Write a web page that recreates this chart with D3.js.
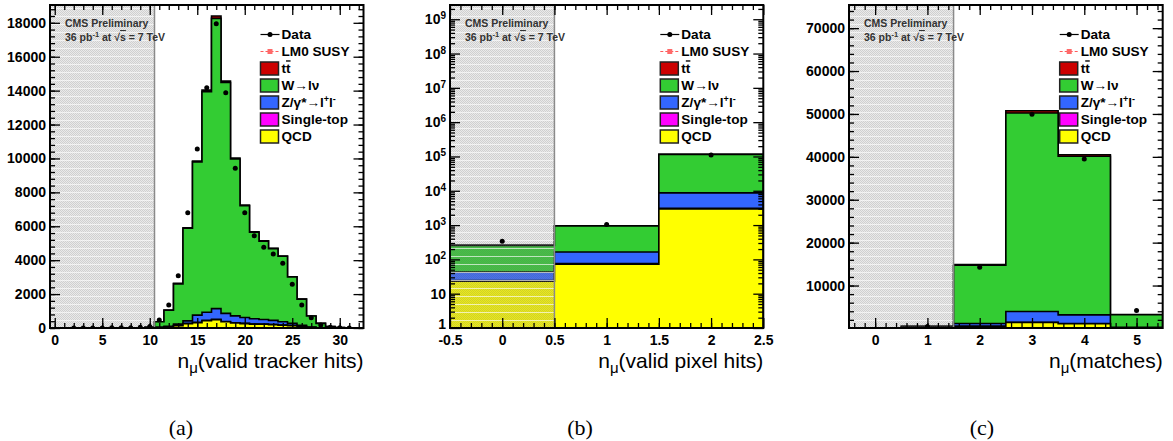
<!DOCTYPE html>
<html>
<head>
<meta charset="utf-8">
<script src="https://cdn.jsdelivr.net/npm/d3@7"></script>
<style>
  body { margin: 0; background: #fff; }
  svg { display: block; }
</style>
</head>
<body>
<svg id="chart" width="1173" height="441"></svg>
<script>
// ---- (a) valid tracker hits, bins 0..32
const trkBins = d3.range(0, 33);
const trkQcd = [0,0,0,0,0,0,0,0,0,0,5,15,45,140,255,310,425,490,365,295,258,228,218,200,162,143,95,28,8,2,0,0,0];
const trkTop = [0,0,0,0,0,0,0,0,0,0,0,2,5,10,15,20,25,20,15,15,12,12,12,10,8,7,5,2,1,0,0,0,0];
const trkZ   = [0,0,0,0,0,0,0,0,0,2,10,40,50,80,150,430,480,630,485,405,350,310,270,240,200,125,60,30,10,3,1,0,0];
const trkW   = [0,0,0,0,0,0,1,2,5,12,40,308,945,2375,5460,9040,13010,17120,13610,9255,6590,5100,4625,4230,3860,2740,1545,644,255,85,19,5,0];
const trkTT  = [0,0,0,0,0,0,0,0,0,0,2,5,15,25,35,50,90,140,85,50,40,30,25,20,15,10,5,3,1,0,0,0,0];
const trkData = [0,0,3,2,5,6,10,15,20,40,90,470,1360,3085,6800,10550,14170,17940,13870,9415,6800,5440,4760,4360,3815,2575,1355,610,180,50,10,3,0];
const trkXTicks = [0, 5, 10, 15, 20, 25, 30];
const trkYTicks = [0, 2000, 4000, 6000, 8000, 10000, 12000, 14000, 16000, 18000];

// ---- (b) valid pixel hits, bins 0..2
const pixBins = [0, 1, 2];
const pixQcd = [23, 72, 2950];
const pixTop = [1, 3, 130];
const pixZ   = [19, 90, 5620];
const pixW   = [213, 775, 106400];
const pixTT  = [2, 10, 900];
const pixData = [337, 1040, 110000];
const pixXTicks = [-0.5, 0, 0.5, 1, 1.5, 2, 2.5];
const pixYTicks = [1, 10, 1e2, 1e3, 1e4, 1e5, 1e6, 1e7, 1e8, 1e9];

// ---- (c) matches, bins 0..5
const matBins = [0, 1, 2, 3, 4, 5];
const matQcd = [0, 60, 480, 1380, 1090, 80];
const matTop = [0, 5, 30, 70, 50, 10];
const matZ   = [0, 120, 630, 2480, 2020, 150];
const matW   = [0, 305, 13620, 46300, 36980, 2960];
const matTT  = [0, 10, 120, 500, 350, 40];
const matData = [0, 450, 14250, 49960, 39490, 4170];
const matXTicks = [0, 1, 2, 3, 4, 5];
const matYTicks = [10000, 20000, 30000, 40000, 50000, 60000, 70000];

// stack order bottom -> top
const colors = ["#ffff00", "#ff00ff", "#3366ff", "#33cc33", "#cc0000"];
const legendItems = [
  { color: "#cc0000", label: "tt" },
  { color: "#33cc33", label: "W→lν" },
  { color: "#3366ff", label: "Z" },
  { color: "#ff00ff", label: "Single-top" },
  { color: "#ffff00", label: "QCD" },
];

const SANS = '"Liberation Sans", Arial, Helvetica, sans-serif';
const svg = d3.select("#chart").style("font-family", SANS);
const T = 5, B = 328;
const defs = svg.append("defs");

// grey dotted "excluded" region
const pat = defs.append("pattern")
  .attr("id", "excl")
  .attr("patternUnits", "userSpaceOnUse")
  .attr("width", 2).attr("height", 8);
pat.append("rect").attr("width", 2).attr("height", 8).attr("fill", "rgba(150,150,150,0.2)");
d3.range(0, 8, 2).forEach((py) => {
  pat.append("rect").attr("x", 0).attr("y", py).attr("width", 1).attr("height", 1).attr("fill", "rgba(90,90,90,0.18)");
  pat.append("rect").attr("x", 1).attr("y", py + 1).attr("width", 1).attr("height", 1).attr("fill", "rgba(90,90,90,0.18)");
});
pat.append("rect").attr("y", 0).attr("width", 2).attr("height", 1).attr("fill", "rgba(255,255,255,0.65)");

const panels = [
  {
    id: "a", L: 50, R: 363.5, xDomain: [-0.5, 32.5], cut: 10.5,
    bins: trkBins, layers: [trkQcd, trkTop, trkZ, trkW, trkTT], data: trkData,
    log: false, yDomain: [0, 19050],
    xTicks: trkXTicks, xMinor: d3.range(0, 33),
    yTicks: trkYTicks, yMinor: d3.range(0, 19001, 400),
    title: "(valid tracker hits)", caption: "(a)", capX: 181,
  },
  {
    id: "b", L: 450, R: 763.3, xDomain: [-0.5, 2.5], cut: 0.5,
    bins: pixBins, layers: [pixQcd, pixTop, pixZ, pixW, pixTT], data: pixData,
    log: true, yDomain: [1, 2.6e9],
    xTicks: pixXTicks, xMinor: d3.range(-0.4, 2.45, 0.1),
    yTicks: pixYTicks,
    yMinor: d3.range(0, 10).flatMap((k) => d3.range(2, 10).map((m) => m * Math.pow(10, k))).filter((v) => v < 2.6e9),
    title: "(valid pixel hits)", caption: "(b)", capX: 580,
  },
  {
    id: "c", L: 849, R: 1162.7, xDomain: [-0.5, 5.5], cut: 1.5,
    bins: matBins, layers: [matQcd, matTop, matZ, matW, matTT], data: matData,
    log: false, yDomain: [100, 75400],
    xTicks: matXTicks, xMinor: d3.range(-0.4, 5.45, 0.2),
    yTicks: matYTicks, yMinor: d3.range(2000, 75001, 2000),
    title: "(matches)", caption: "(c)", capX: 982,
  },
];

panels.forEach(drawPanel);

function drawPanel(p) {
  const x = d3.scaleLinear().domain(p.xDomain).range([p.L, p.R]);
  const y = (p.log ? d3.scaleLog() : d3.scaleLinear()).domain(p.yDomain).range([B, T]);
  const base = p.log ? p.yDomain[0] : 0;
  const yv = (v) => y(p.log ? Math.max(v, base) : v);

  defs.append("clipPath").attr("id", "clip-" + p.id)
    .append("rect").attr("x", p.L).attr("y", T).attr("width", p.R - p.L).attr("height", B - T);

  const g = svg.append("g");
  const plot = g.append("g").attr("clip-path", `url(#clip-${p.id})`);

  // cumulative stack
  const cum = [];
  p.layers.forEach((arr, i) => {
    cum.push(arr.map((v, b) => v + (i > 0 ? cum[i - 1][b] : 0)));
  });

  const area = d3.area()
    .curve(d3.curveStepAfter)
    .x((d) => x(d.e))
    .y0(y(Math.max(base, p.yDomain[0])))
    .y1((d) => yv(d.v));

  for (let i = cum.length - 1; i >= 0; i--) {
    const pts = p.bins.map((c, b) => ({ e: c - 0.5, v: cum[i][b] }));
    pts.push({ e: p.bins[p.bins.length - 1] + 0.5, v: cum[i][p.bins.length - 1] });
    plot.append("path")
      .attr("d", area(pts))
      .attr("fill", colors[i])
      .attr("stroke", "#000")
      .attr("stroke-width", 1.6);
  }

  // excluded region
  plot.append("rect")
    .attr("x", p.L).attr("y", T)
    .attr("width", x(p.cut) - p.L).attr("height", B - T)
    .attr("fill", "url(#excl)");
  plot.append("line")
    .attr("x1", x(p.cut)).attr("x2", x(p.cut))
    .attr("y1", T).attr("y2", B)
    .attr("stroke", "#8a8a8a").attr("stroke-width", 1.5);

  // data points
  plot.selectAll("circle.data")
    .data(p.bins.map((c, b) => ({ c, v: p.data[b] })).filter((d) => d.v > 0))
    .join("circle")
    .attr("class", "data")
    .attr("cx", (d) => x(d.c))
    .attr("cy", (d) => yv(d.v))
    .attr("r", 2.5)
    .attr("fill", "#000");

  // axes (ROOT-style inward ticks on all four sides)
  const fmtX = (d) => String(+d.toFixed(2));
  const styleAxis = (sel) => {
    sel.select(".domain").remove();
    sel.selectAll(".tick line").attr("stroke", "#000").attr("stroke-width", 1.3);
    sel.selectAll(".tick text")
      .attr("fill", "#000")
      .attr("font-size", 14)
      .attr("font-weight", "bold")
      .attr("font-family", SANS);
  };

  g.append("g").attr("transform", `translate(0,${B})`)
    .call(d3.axisBottom(x).tickValues(p.xTicks).tickSizeInner(-10).tickSizeOuter(0).tickPadding(7).tickFormat(fmtX))
    .call(styleAxis);
  g.append("g").attr("transform", `translate(0,${B})`)
    .call(d3.axisBottom(x).tickValues(p.xMinor).tickSize(-5).tickFormat(""))
    .call(styleAxis);
  g.append("g").attr("transform", `translate(0,${T})`)
    .call(d3.axisTop(x).tickValues(p.xTicks).tickSize(-10).tickFormat(""))
    .call(styleAxis);
  g.append("g").attr("transform", `translate(0,${T})`)
    .call(d3.axisTop(x).tickValues(p.xMinor).tickSize(-5).tickFormat(""))
    .call(styleAxis);

  const yAxis = g.append("g").attr("transform", `translate(${p.L},0)`)
    .call(d3.axisLeft(y).tickValues(p.yTicks).tickSizeInner(-10).tickSizeOuter(0).tickPadding(4)
      .tickFormat(p.log ? () => "" : (d) => String(d)))
    .call(styleAxis);
  if (p.log) {
    yAxis.selectAll(".tick text").each(function (d) {
      const e = Math.round(Math.log10(d));
      const t = d3.select(this);
      if (e === 0) t.text("1").attr("dy", "0em");
      else if (e === 1) t.text("10");
      else {
        t.append("tspan").text("10");
        t.append("tspan").attr("dy", "-0.5em").attr("font-size", 10).text(e);
      }
    });
  }
  g.append("g").attr("transform", `translate(${p.L},0)`)
    .call(d3.axisLeft(y).tickValues(p.yMinor).tickSize(-5).tickFormat(""))
    .call(styleAxis);
  g.append("g").attr("transform", `translate(${p.R},0)`)
    .call(d3.axisRight(y).tickValues(p.yTicks).tickSize(-10).tickFormat(""))
    .call(styleAxis);
  g.append("g").attr("transform", `translate(${p.R},0)`)
    .call(d3.axisRight(y).tickValues(p.yMinor).tickSize(-5).tickFormat(""))
    .call(styleAxis);

  // frame
  g.append("rect")
    .attr("x", p.L).attr("y", T)
    .attr("width", p.R - p.L).attr("height", B - T)
    .attr("fill", "none").attr("stroke", "#000").attr("stroke-width", 2);

  // CMS label
  const cms = g.append("g").attr("fill", "#333").attr("font-weight", "bold").attr("font-size", 10.5);
  cms.append("text").attr("x", p.L + 15).attr("y", 26.5).text("CMS Preliminary");
  const l2 = cms.append("text").attr("x", p.L + 15).attr("y", 41);
  l2.append("tspan").text("36 pb");
  l2.append("tspan").attr("dy", -4).attr("font-size", 7.5).text("-1");
  l2.append("tspan").attr("dy", 4).text(" at √");
  l2.append("tspan").style("text-decoration", "overline").text("s");
  l2.append("tspan").text(" = 7 TeV");

  // legend
  const lx = p.R - 103;
  const leg = g.append("g").attr("font-weight", "bold").attr("font-size", 13.6).attr("fill", "#000");
  const rowY = (i) => 34.5 + i * 17;
  leg.append("line").attr("x1", lx).attr("x2", lx + 19).attr("y1", rowY(0)).attr("y2", rowY(0))
    .attr("stroke", "#000").attr("stroke-width", 1.2);
  leg.append("circle").attr("cx", lx + 9.5).attr("cy", rowY(0)).attr("r", 2.5).attr("fill", "#000");
  leg.append("text").attr("x", lx + 21).attr("y", rowY(0) + 4.8).text("Data");
  leg.append("line").attr("x1", lx).attr("x2", lx + 19).attr("y1", rowY(1)).attr("y2", rowY(1))
    .attr("stroke", "#ff5a5a").attr("stroke-width", 1).attr("stroke-dasharray", "3,2");
  leg.append("rect").attr("x", lx + 7).attr("y", rowY(1) - 2.5).attr("width", 5).attr("height", 5).attr("fill", "#ff6a6a");
  leg.append("text").attr("x", lx + 21).attr("y", rowY(1) + 4.8).text("LM0 SUSY");

  legendItems.forEach((it, k) => {
    const cy = rowY(k + 2);
    leg.append("rect").attr("x", lx).attr("y", cy - 6.5).attr("width", 18).attr("height", 13)
      .attr("fill", it.color).attr("stroke", "#222").attr("stroke-width", 1.5);
    const t = leg.append("text").attr("x", lx + 21).attr("y", cy + 4.8);
    if (it.label === "tt") {
      t.append("tspan").text("t");
      t.append("tspan").style("text-decoration", "overline").text("t");
    } else if (it.label === "Z") {
      t.append("tspan").text("Z/γ*→l");
      t.append("tspan").attr("dy", -5).attr("font-size", 9).text("+");
      t.append("tspan").attr("dy", 5).text("l");
      t.append("tspan").attr("dy", -5).attr("font-size", 9).text("-");
    } else {
      t.text(it.label);
    }
  });

  // axis title
  const title = g.append("text")
    .attr("x", p.R).attr("y", 368)
    .attr("text-anchor", "end")
    .attr("font-size", 21)
    .attr("fill", "#000");
  title.append("tspan").text("n");
  title.append("tspan").attr("dy", 5).attr("font-size", 15).text("μ");
  title.append("tspan").attr("dy", -5).text(p.title);

  // caption
  svg.append("text")
    .attr("x", p.capX).attr("y", 435)
    .attr("text-anchor", "middle")
    .style("font-family", '"Liberation Serif", "Times New Roman", serif')
    .attr("font-size", 22)
    .attr("fill", "#000")
    .text(p.caption);
}
</script>
</body>
</html>
